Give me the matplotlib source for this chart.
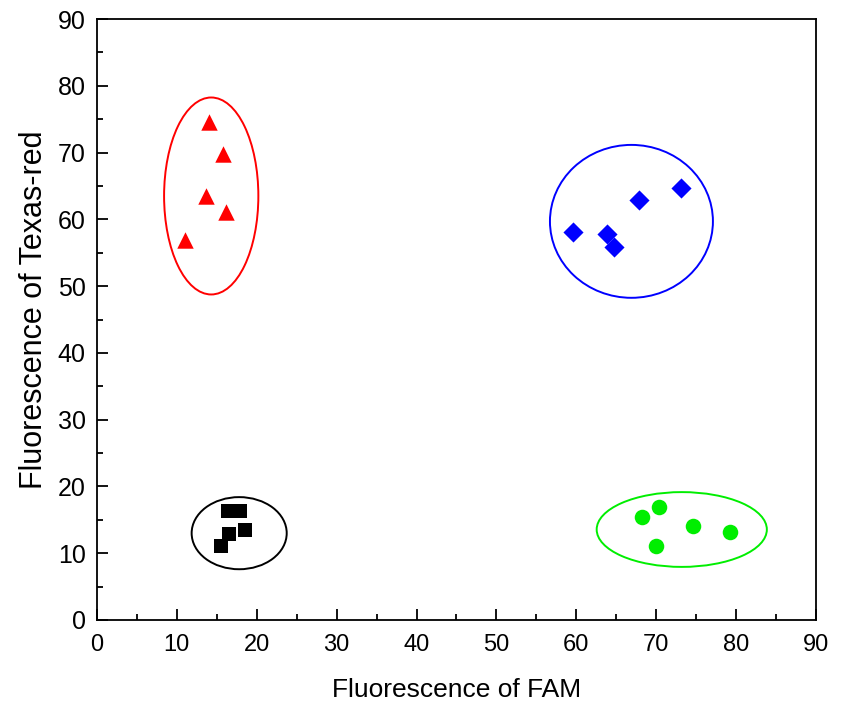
import matplotlib
matplotlib.use("Agg")
import matplotlib.pyplot as plt
from matplotlib.patches import Ellipse
from matplotlib.ticker import MultipleLocator

plt.rcParams['font.family'] = ['Liberation Sans', 'DejaVu Sans']

# Data (FAM, Texas-red)
red_x = [14.0, 15.8, 13.6, 16.1, 11.0]
red_y = [74.6, 69.8, 63.5, 61.1, 56.9]
blue_x = [59.6, 63.8, 64.7, 67.8, 73.1]
blue_y = [58.1, 57.8, 55.9, 62.9, 64.7]
black_x = [16.4, 17.9, 16.5, 18.5, 15.5]
black_y = [16.3, 16.3, 12.9, 13.5, 11.1]
green_x = [68.2, 70.3, 70.0, 74.6, 79.3]
green_y = [15.4, 16.9, 11.1, 14.1, 13.2]

# Cluster ellipses: center x, center y, width, height
ell_red = (14.3, 63.5, 11.8, 29.5)
ell_blue = (66.9, 59.7, 20.4, 22.9)
ell_black = (17.8, 13.0, 11.9, 10.8)
ell_green = (73.2, 13.55, 21.3, 11.2)

fig = plt.figure(figsize=(8.44, 7.05), dpi=100)
ax = fig.add_axes([0.1149, 0.1206, 0.8519, 0.8524])

ax.scatter(red_x, red_y, marker='^', s=140, color='#ff0000', zorder=3, linewidths=0)
ax.scatter(blue_x, blue_y, marker='D', s=105, color='#0000ff', zorder=3, linewidths=0)
ax.scatter(black_x, black_y, marker='s', s=105, color='#000000', zorder=3, linewidths=0)
ax.scatter(green_x, green_y, marker='o', s=125, color='#00ee00', zorder=3, linewidths=0)

for (cx, cy, w, h), c in [(ell_red, '#ff0000'), (ell_blue, '#0000ff'),
                          (ell_black, '#000000'), (ell_green, '#00ee00')]:
    ax.add_patch(Ellipse((cx, cy), w, h, fill=False, edgecolor=c, linewidth=1.4, zorder=2))

ax.set_xlim(0, 90)
ax.set_ylim(0, 90)
ax.xaxis.set_major_locator(MultipleLocator(10))
ax.yaxis.set_major_locator(MultipleLocator(10))
ax.xaxis.set_minor_locator(MultipleLocator(5))
ax.yaxis.set_minor_locator(MultipleLocator(5))
ax.tick_params(which='both', direction='in', top=False, right=False, width=1.3)
ax.tick_params(axis='y', labelsize=18)
ax.tick_params(axis='x', labelsize=17)
ax.tick_params(which='major', length=8)
ax.tick_params(axis='x', which='major', pad=10)
ax.tick_params(axis='y', which='major', pad=8)
ax.tick_params(which='minor', length=4)
for sp in ax.spines.values():
    sp.set_linewidth(1.3)

ax.set_xlabel('Fluorescence of FAM', fontsize=19, labelpad=16)
ax.set_ylabel('Fluorescence of Texas-red', fontsize=22)
ax.yaxis.set_label_coords(-0.067, 0.517)

fig.savefig('out.png', dpi=100)
